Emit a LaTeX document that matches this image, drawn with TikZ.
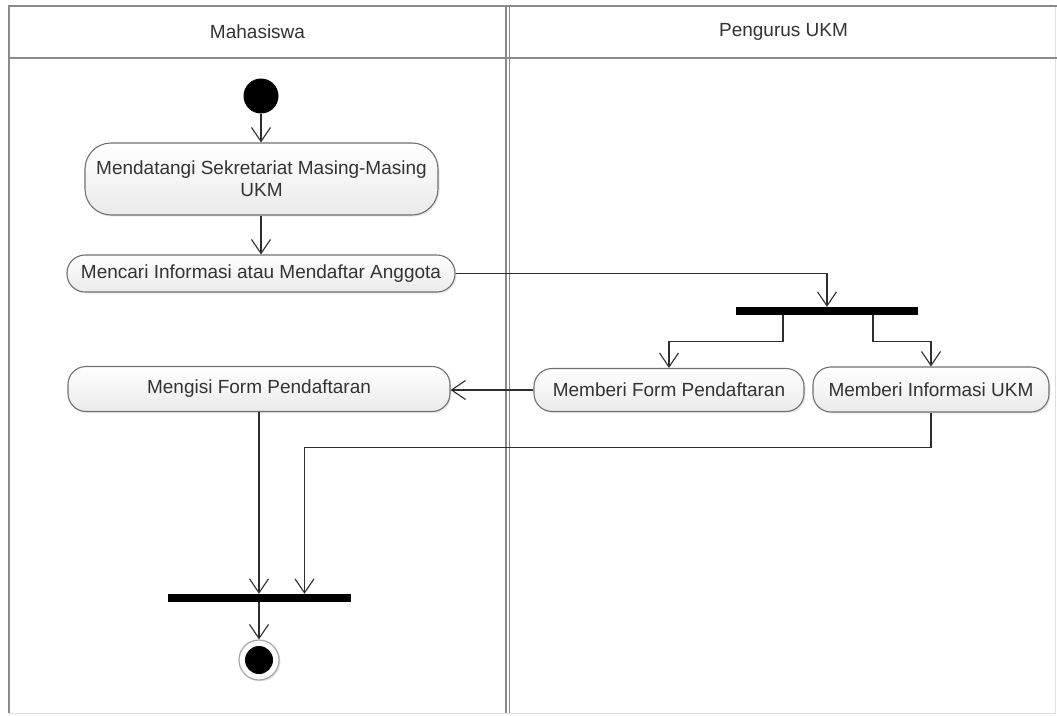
\documentclass[tikz,border=0pt]{standalone}
\usepackage{fontspec}
\setmainfont{Liberation Sans}
\usetikzlibrary{arrows.meta,shadows,calc}
\definecolor{txt}{HTML}{333333}
\definecolor{ln}{HTML}{2E2E2E}
\definecolor{frm}{HTML}{8A8A8A}
\definecolor{nodeborder}{HTML}{707070}
\tikzset{
  act/.style={rectangle, rounded corners=18pt, draw=nodeborder, line width=1.1pt,
    top color=white, bottom color=gray!16, text=txt, align=center, inner sep=2pt,
    font=\fontsize{19}{22}\selectfont,
    drop shadow={opacity=0.18, shadow xshift=1.5pt, shadow yshift=-1.5pt}},
  hdr/.style={text=txt, font=\fontsize{19}{22}\selectfont, inner sep=0pt},
  syncbar/.style={rectangle, fill=black, draw=none, inner sep=0pt, minimum height=8pt},
  arr/.style={draw=ln, line width=1.1pt, -{Straight Barb[length=14pt,width=19pt]}},
  frame/.style={draw=frm, line width=1.5pt},
  faint/.style={draw=gray!25, line width=1pt}
}
\begin{document}
\begin{tikzpicture}[x=1pt,y=-1pt]
\useasboundingbox (0,0) rectangle (1057,715);
\fill[white] (0,0) rectangle (1057,715);
% frame
\draw[faint] (9,713) -- (1055,713) -- (1055,6);
\draw[frame] (1057,6) -- (9,6) -- (9,713);
\draw[frame] (9,58) -- (1057,58);
\draw[frame] (506,6) -- (506,713);
\draw[frame] (509.5,6) -- (509.5,713);
% headers
\node[hdr] (h1) at (257.5,32) {Mahasiswa};
\node[hdr] (h2) at (783.5,32) {Pengurus UKM};
% nodes
\node[circle, fill=black, minimum size=35pt, inner sep=0pt] (start) at (261,96) {};
\node[act, rounded corners=26pt, minimum width=353pt, minimum height=72pt] (n1) at (261.5,179)
  {Mendatangi Sekretariat Masing-Masing\\UKM};
\node[act, minimum width=388pt, minimum height=37pt] (n2) at (261,273.5)
  {Mencari Informasi atau Mendaftar Anggota};
\node[syncbar, minimum width=182pt] (fork) at (827,311) {};
\node[act, minimum width=270pt, minimum height=43pt] (n4) at (669,390)
  {Memberi Form Pendaftaran};
\node[act, minimum width=236pt, minimum height=45pt] (n5) at (931,389.5)
  {Memberi Informasi UKM};
\node[act, minimum width=382pt, minimum height=45pt] (n3) at (259,389)
  {Mengisi Form Pendaftaran};
\node[syncbar, minimum width=183pt] (join) at (259.5,598) {};
\node[circle, draw=gray!70, line width=1.2pt, fill=white, minimum size=40pt, inner sep=0pt,
  drop shadow={opacity=0.2, shadow xshift=1.5pt, shadow yshift=-1.5pt}] (end) at (259,660) {};
\node[circle, fill=black, minimum size=28pt, inner sep=0pt] (endin) at (end) {};
% connectors
\draw[arr] (start.south) -- (start.south |- n1.north);
\draw[arr] (n1.south -| start) -- (start |- n2.north);
\draw[arr] (n2.east) -| (fork.north);
\draw[arr] ([xshift=-44pt]fork.south) -- ++(0,26) -| (n4.north);
\draw[arr] ([xshift=46pt]fork.south) -- ++(0,26) -| (n5.north);
\draw[arr] (n4.west) -- (n4.west -| n3.east);
\draw[arr] (n3.south) -- (n3.south |- join.north);
\draw[arr] (n5.south) -- ++(0,35) -| ([xshift=45pt]join.north);
\draw[arr] (join.south -| end) -- (end.north);
\end{tikzpicture}
\end{document}
